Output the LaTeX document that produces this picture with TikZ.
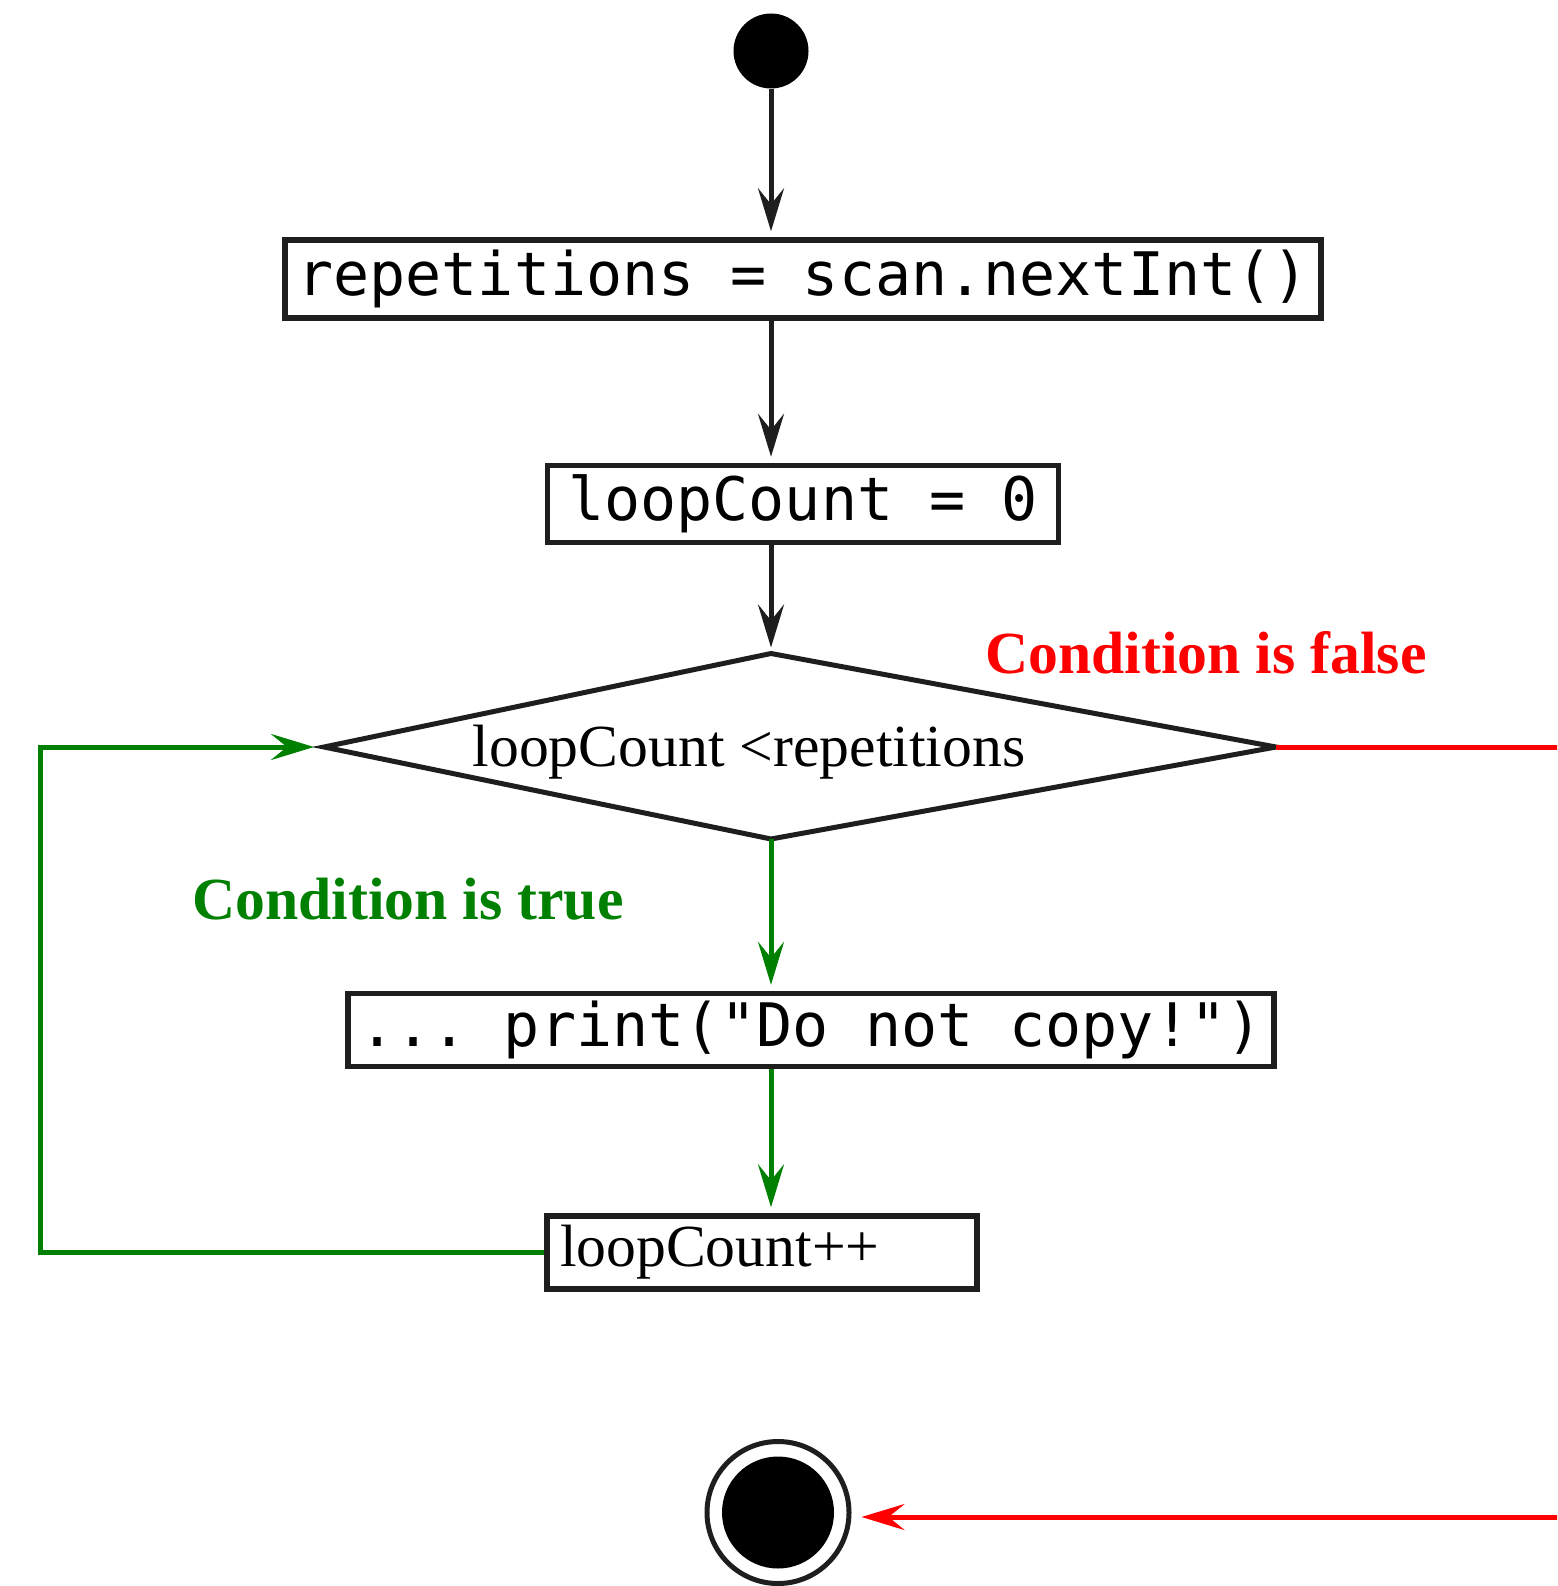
\documentclass[tikz,border=0pt]{standalone}
\usepackage{fontspec}
\setmainfont{Liberation Serif}
\setmonofont{DejaVu Sans Mono}
\usetikzlibrary{positioning}
\usetikzlibrary{arrows.meta}

\definecolor{ink}{HTML}{1E1E1E}
\definecolor{truegreen}{HTML}{008000}
\definecolor{falsered}{HTML}{FF0000}

\begin{document}
\begin{tikzpicture}[
        x = 1pt, y = -1pt,
        box/.style = {
            draw = ink,
            rectangle,
            line width = 5.4pt,
            minimum width = #1,
            minimum height = 77pt,
            inner sep = 0pt,
            font = \fontsize{60}{70}\selectfont\ttfamily
        },
        box/.default = 400pt,
        flow/.style = {
            line width = 5pt,
            -{Stealth[length=43pt, width=26pt, inset=16pt]},
            shorten > = 6pt
        },
        tag/.style = {
            anchor = base,
            font = \fontsize{59.7}{70}\selectfont\bfseries
        }
        ]
%
        \clip (0,0) rectangle (1557,1586);
%
        \node[circle, fill=black, minimum size=75pt, inner sep=0pt] (start) at (771,51) {};
        \node[box=1036pt, minimum height=78pt] (reps) at (803,279) {repetitions = scan.nextInt()};
        \node[box=511pt] (init) at (803,504) {loopCount = 0};
%
        \coordinate (dtop) at (771,653.5);
        \coordinate (dright) at (1276,747);
        \coordinate (dbot) at (771,839);
        \coordinate (dleft) at (324,747);
        \draw[ink, line width=5pt, line join=miter] (dtop) -- (dright) -- (dbot) -- (dleft) -- cycle;
        \node[anchor=base, font=\fontsize{59.7}{70}\selectfont] (cond) at (749,766) {loopCount <repetitions};
%
        \node[tag, text=falsered] (false) at (1206,673) {Condition is false};
        \node[tag, text=truegreen] (true) at (408,919) {Condition is true};
%
        \node[box=926pt, minimum height=73pt] (body) at (811,1030) {... print("Do not copy!")};
        \node[box=430pt, minimum height=73pt, inner xsep=13pt, text width=404pt, align=left,
              font=\fontsize{59.7}{70}\selectfont] (incr) at (762,1252.5) {loopCount++};
%
        \node[circle, draw=ink, line width=5pt, minimum size=142pt, inner sep=0pt] (stop) at (778,1512.5) {};
        \node[circle, fill=black, minimum size=112pt, inner sep=0pt] (stopdot) at (stop) {};
%
        \coordinate (loopx) at (40,0);
        \coordinate (edge) at (1620,0);
%
        \draw[flow, ink] (start) -- (start |- reps.north);
        \draw[flow, ink] (start |- reps.south) -- (start |- init.north);
        \draw[flow, ink] (start |- init.south) -- (dtop);
%
        \draw[flow, truegreen] (dbot) -- (start |- body.north);
        \draw[flow, truegreen] (start |- body.south) -- (start |- incr.north);
        \draw[flow, truegreen, line join=miter, shorten > = 10pt] (incr.west) -- (incr.west -| loopx) |- (dleft);
%
        \draw[flow, falsered, shorten > = 10pt] (dright) -- (dright -| edge) -- (1620,1517) -- (stop.east |- 0,1517);

    \end{tikzpicture}
\end{document}
